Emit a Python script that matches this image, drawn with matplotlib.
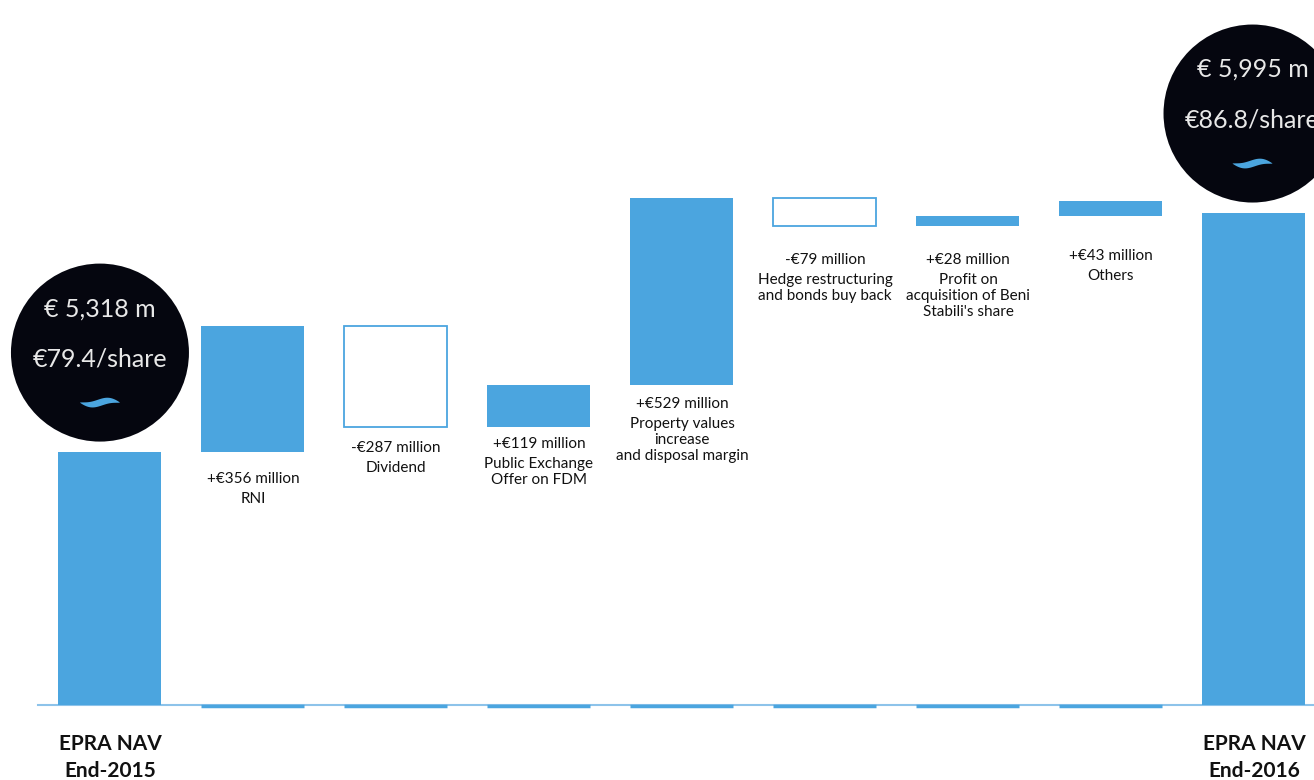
import matplotlib.pyplot as plt
import matplotlib.transforms as mtransforms
import numpy as np

# --- data ---
start_label = "EPRA NAV\nEnd-2015"
end_label = "EPRA NAV\nEnd-2016"
start_value = 5318
end_value = 5995
deltas = [356, -287, 119, 529, -79, 28, 43]
amount_labels = ["+€356 million", "-€287 million", "+€119 million", "+€529 million",
                 "-€79 million", "+€28 million", "+€43 million"]
desc_labels = ["RNI", "Dividend", "Public Exchange\nOffer on FDM",
               "Property values\nincrease\nand disposal margin",
               "Hedge restructuring\nand bonds buy back",
               "Profit on\nacquisition of Beni\nStabili's share", "Others"]
start_badge = ["€ 5,318 m", "€79.4/share"]
end_badge = ["€ 5,995 m", "€86.8/share"]

# --- layout ---
base = 4600
blue = "#4BA5DF"
dark = "#05060F"
label_gap_px = [27, 21, 17, 19, 34, 34, 40]   # gap between bar bottom and label

plt.rcParams['font.family'] = ['Lato', 'DejaVu Sans']

fig = plt.figure(figsize=(13.14, 7.8), dpi=100)
ax = fig.add_axes([0, 0, 1, 1])
ax.set_xlim(-0.769, 8.42)
ax.set_ylim(4388, 6597)
ax.axis('off')

px_per_m = 0.353
width = 0.72

# baseline
ax.plot([-0.5, 8.42], [base, base], color="#8DC3EA", lw=1.5, zorder=1)

# start bar
ax.bar(0, start_value - base, bottom=base, width=width, color=blue, zorder=2)

running = start_value
for i, d in enumerate(deltas):
    x = i + 1
    low = min(running, running + d)
    if d >= 0:
        ax.bar(x, d, bottom=running, width=width, color=blue, zorder=2)
    else:
        ax.bar(x, -d, bottom=running + d, width=width, facecolor="white",
               edgecolor=blue, lw=1.3, zorder=2)
    ax.hlines(base - 2, x - width / 2, x + width / 2, color=blue, lw=2.5, zorder=2)
    y_amt = low - label_gap_px[i] / px_per_m
    ax.text(x, y_amt, amount_labels[i], ha='center', va='center', fontsize=11,
            color="#111111")
    ax.text(x, y_amt - 13 / px_per_m, desc_labels[i], ha='center', va='top',
            fontsize=11, color="#111111", linespacing=1.15)
    running += d

# end bar
n = len(deltas) + 1
ax.bar(n, end_value - base, bottom=base, width=width, color=blue, zorder=2)

# bottom labels
for x, lab in [(0, start_label), (n, end_label)]:
    ax.text(x, base - 52 / px_per_m, lab, ha='center', va='center', fontsize=15,
            fontweight='bold', color="#111111", linespacing=1.45)


def badge(cx, cy, lines):
    ax.scatter([cx], [cy], s=(178 * 0.72) ** 2, color=dark, zorder=5,
               edgecolors='none')
    trans = fig.dpi_scale_trans + mtransforms.ScaledTranslation(cx, cy, ax.transData)
    ax.text(0, 0.44, lines[0], transform=trans, ha='center', va='center',
            fontsize=18, color="#E8E8E8", zorder=6)
    ax.text(0, -0.06, lines[1], transform=trans, ha='center', va='center',
            fontsize=18, color="#E8E8E8", zorder=6)
    t = np.linspace(-0.2, 0.2, 60)
    mid = -0.50 + 0.02 * np.sin(t / 0.2 * np.pi)
    half = 0.035 * np.cos(t / 0.2 * np.pi / 2) ** 0.8
    xs = np.concatenate([t, t[::-1]])
    ys = np.concatenate([mid + half, (mid - half)[::-1]])
    ax.fill(xs, ys, color=blue, transform=trans, zorder=6, lw=0)


badge(-0.07, start_value + 99 / px_per_m, start_badge)
badge(7.99, end_value + 99 / px_per_m, end_badge)

fig.savefig("out.png", dpi=100)
